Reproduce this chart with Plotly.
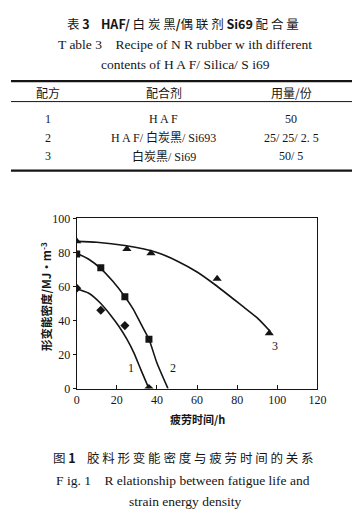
import plotly.graph_objects as go

W, H = 360, 517

# ---- data ----
# marker points (fatigue time h, strain energy density MJ/m^3)
s1_x = [0, 12, 24, 36]
s1_y = [59, 46, 37, 0]
s2_x = [0, 12, 24, 36]
s2_y = [79, 71, 54, 29]
s3_x = [0, 25, 37, 70, 96]
s3_y = [86.5, 82, 79.5, 64.5, 32.5]

# fitted curves as drawn
c1_x = [0, 6, 12, 17, 21, 25, 28.5, 32, 36]
c1_y = [58.5, 56, 50, 43, 36.6, 29, 21, 11, 0]
c2_x = [0, 6, 12, 18, 24, 28, 32, 36, 40, 45.5]
c2_y = [79.5, 76, 70.5, 63, 54, 47, 38, 29, 15, 0]
c3_x = [0, 10, 24, 40, 50, 60, 69, 82, 90, 96.5]
c3_y = [86.5, 86, 84, 80, 75, 68.5, 61, 49, 41.5, 33.5]

x_ticks = [0, 20, 40, 60, 80, 100, 120]
y_ticks = [0, 20, 40, 60, 80, 100]

curve_labels = ["1", "2", "3"]
label_x = [27, 48, 99]
label_y = [12, 12, 25]

table_header = ["配方", "配合剂", "用量/份"]
table_rows = [
    ["1", "H A F", "50"],
    ["2", "H A F/ 白炭黑/ Si693", "25/ 25/ 2. 5"],
    ["3", "白炭黑/ Si69", "50/ 5"],
]

SERIF = "Liberation Serif, Noto Sans CJK SC"
CJK = "Noto Sans CJK SC, Liberation Serif"
INK = "#151515"


def px(x):
    return x / W


def py(y):
    return 1 - y / H


fig = go.Figure()

for cx, cy in [(c1_x, c1_y), (c2_x, c2_y), (c3_x, c3_y)]:
    fig.add_trace(go.Scatter(x=cx, y=cy, mode="lines",
                             line=dict(color=INK, width=1.6, shape="spline", smoothing=0.7),
                             hoverinfo="skip", showlegend=False))

fig.add_trace(go.Scatter(x=s1_x, y=s1_y, mode="markers",
                         marker=dict(symbol="diamond", size=7, color=INK), showlegend=False))
fig.add_trace(go.Scatter(x=s2_x, y=s2_y, mode="markers",
                         marker=dict(symbol="square", size=7, color=INK), showlegend=False))
fig.add_trace(go.Scatter(x=s3_x, y=s3_y, mode="markers",
                         marker=dict(symbol="triangle-up", size=8, color=INK), showlegend=False))

for t, lx, ly in zip(curve_labels, label_x, label_y):
    fig.add_annotation(x=lx, y=ly, xref="x", yref="y", text=t, showarrow=False,
                       font=dict(family=SERIF, size=12, color=INK))

ann = []


def txt(x, y, text, size=12, family=SERIF, **kw):
    ann.append(dict(x=px(x), y=py(y), xref="paper", yref="paper", text=text, showarrow=False,
                    font=dict(family=family, size=size, color=INK), xanchor="center", yanchor="middle", **kw))


# table title
txt(178, 9, "表 <b>3</b>    <b>HAF/</b> 白 炭 黑<b>/</b>偶 联 剂 <b>Si69</b> 配 合 量", 12.5, CJK)
txt(180, 30, "T able 3    Recipe of N R rubber w ith different", 13.5)
txt(180, 51, "contents of H A F/ Silica/ S i69", 13.5)

col_x = [38, 158, 290]
for cxp, h in zip(col_x, table_header):
    txt(cxp, 80, h, 12, CJK)
row_y = [107, 126, 145]
for ry, row in zip(row_y, table_rows):
    for cxp, v in zip(col_x, row):
        txt(cxp, ry, v, 12, SERIF)

# axis title & captions
txt(193, 415, "<b>疲劳时间/h</b>", 11, CJK)
txt(36, 289, "<b>形变能密度/MJ·m<sup>-3</sup></b>", 11.5, CJK, textangle=-90)
txt(178, 455, "图 <b>1</b>    胶 料 形 变 能 密 度 与 疲 劳 时 间 的 关 系", 12.5, CJK)
txt(178, 478, "F ig. 1    R elationship between fatigue life and", 13.5)
txt(180, 500, "strain energy density", 13.5)

shapes = []
for yy, w in [(68, 2.4), (89, 1.0), (160, 2.4)]:
    shapes.append(dict(type="line", xref="paper", yref="paper", x0=0, x1=px(358), y0=py(yy), y1=py(yy),
                       line=dict(color=INK, width=w)))

fig.update_layout(
    width=W, height=H,
    margin=dict(l=0, r=0, t=0, b=0),
    paper_bgcolor="white", plot_bgcolor="white",
    annotations=list(fig.layout.annotations) + ann,
    shapes=shapes,
    xaxis=dict(domain=[px(68), px(317)], range=[0, 120], tickvals=x_ticks,
               ticks="inside", ticklen=4, tickcolor=INK, showgrid=False, zeroline=False,
               showline=True, linecolor=INK, linewidth=1.2, mirror=True,
               tickfont=dict(family=SERIF, size=12, color=INK)),
    yaxis=dict(domain=[py(384), py(209)], range=[0, 100], tickvals=y_ticks,
               ticks="outside", ticklen=3, tickcolor=INK, showgrid=False, zeroline=False,
               showline=True, linecolor=INK, linewidth=1.2, mirror=True,
               tickfont=dict(family=SERIF, size=12, color=INK)),
)

fig.write_html("out.html")
